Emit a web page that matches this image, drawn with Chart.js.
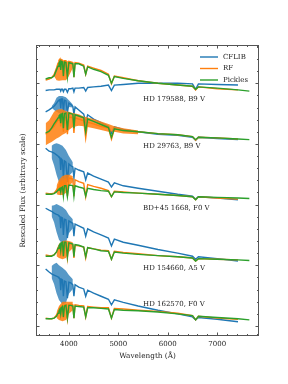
<!DOCTYPE html>
<html>
<head>
<meta charset="utf-8">
<script src="https://cdn.jsdelivr.net/npm/chart.js@4/dist/chart.umd.min.js"></script>
<style>
  html, body { margin: 0; padding: 0; background: #fff; }
</style>
</head>
<body>
<canvas id="chart" width="288" height="384"></canvas>
<script>
// wavelength grid (Angstrom)
const wave = [3530, 3600, 3650, 3700, 3750, 3780, 3800, 3820, 3835, 3850, 3870, 3889, 3910, 3940, 3970,
  4000, 4040, 4080, 4102, 4125, 4200, 4300, 4340, 4380, 4500, 4650, 4800, 4861, 4920, 5100, 5400,
  5800, 6200, 6500, 6563, 6620, 7000, 7420, 7650];
const waveTicks = [4000, 5000, 6000, 7000];

const starNames = ['HD 179588, B9 V', 'HD 29763, B9 V', 'BD+45 1668, F0 V', 'HD 154660, A5 V', 'HD 162570, F0 V'];
const libraries = ['CFLIB', 'RF', 'Pickles'];

// rescaled + offset flux, one row per star
const cflibFlux = [
  [3.88, 3.89, 3.89, 3.89, 3.90, 3.90, 3.90, 3.90, 3.87, 3.90, 3.90, 3.86, 3.90, 3.90, 3.85, 3.91, 3.91, 3.92, 3.86, 3.92, 3.92, 3.93, 3.87, 3.93, 3.94, 3.95, 3.97, 3.88, 3.97, 3.98, 4.00, 4.00, 4.00, 3.99, 3.90, 3.99, 3.98, 3.97, null],
  [3.53, 3.56, 3.59, 3.62, 3.67, 3.71, 3.72, 3.73, 3.59, 3.74, 3.74, 3.53, 3.72, 3.71, 3.51, 3.67, 3.65, 3.62, 3.49, 3.61, 3.56, 3.49, 3.36, 3.48, 3.41, 3.35, 3.29, 3.18, 3.28, 3.24, 3.20, 3.16, 3.14, 3.11, 3.06, 3.11, 3.09, 3.07, null],
  [2.93, 2.88, 2.87, 2.85, 2.82, 2.80, 2.78, 2.77, 2.57, 2.75, 2.73, 2.44, 2.72, 2.70, 2.37, 2.67, 2.64, 2.62, 2.44, 2.60, 2.57, 2.54, 2.41, 2.52, 2.47, 2.42, 2.37, 2.29, 2.36, 2.31, 2.27, 2.22, 2.17, 2.14, 2.09, 2.13, 2.11, 2.08, null],
  [1.94, 1.91, 1.89, 1.86, 1.84, 1.83, 1.81, 1.80, 1.61, 1.79, 1.78, 1.50, 1.76, 1.75, 1.45, 1.73, 1.71, 1.69, 1.48, 1.68, 1.65, 1.61, 1.48, 1.60, 1.55, 1.50, 1.45, 1.32, 1.43, 1.38, 1.33, 1.26, 1.20, 1.15, 1.10, 1.14, 1.11, 1.07, null],
  [0.94, 0.89, 0.86, 0.84, 0.82, 0.81, 0.79, 0.78, 0.59, 0.77, 0.76, 0.49, 0.74, 0.73, 0.46, 0.72, 0.71, 0.68, 0.49, 0.68, 0.64, 0.61, 0.49, 0.59, 0.54, 0.49, 0.44, 0.35, 0.43, 0.39, 0.33, 0.26, 0.20, 0.15, 0.10, 0.14, 0.11, 0.07, null]
];
const rfFlux = [
  [4.05, 4.07, 4.09, 4.14, 4.25, 4.33, 4.38, 4.40, 4.25, 4.39, 4.38, 4.10, 4.37, 4.37, 4.09, 4.36, 4.35, 4.34, 4.10, 4.34, 4.33, 4.30, 4.15, 4.28, 4.25, 4.21, 4.15, 3.99, 4.12, 4.09, 4.04, 4.00, 3.97, 3.95, 3.89, 3.94, 3.91, 3.89, null],
  [3.16, 3.20, 3.25, 3.29, 3.36, 3.39, 3.41, 3.43, 3.29, 3.43, 3.44, 3.20, 3.44, 3.44, 3.16, 3.44, 3.44, 3.43, 3.18, 3.43, 3.41, 3.38, 3.10, 3.36, 3.33, 3.29, 3.26, 3.08, 3.25, 3.22, 3.20, 3.17, 3.15, 3.12, 3.06, 3.11, 3.10, 3.08, null],
  [2.19, 2.18, 2.18, 2.19, 2.24, 2.29, 2.32, 2.36, 2.24, 2.37, 2.39, 2.16, 2.41, 2.42, 2.14, 2.44, 2.43, 2.42, 2.14, 2.41, 2.38, 2.35, 2.13, 2.33, 2.30, 2.27, 2.23, 2.13, 2.22, 2.21, 2.19, 2.17, 2.15, 2.13, 2.08, 2.13, 2.11, 2.09, null],
  [1.17, 1.16, 1.16, 1.17, 1.22, 1.27, 1.30, 1.33, 1.22, 1.34, 1.35, 1.14, 1.36, 1.36, 1.12, 1.36, 1.35, 1.34, 1.12, 1.33, 1.32, 1.30, 1.12, 1.29, 1.27, 1.25, 1.24, 1.10, 1.23, 1.21, 1.19, 1.16, 1.14, 1.12, 1.07, 1.11, 1.10, 1.09, null],
  [0.13, 0.12, 0.12, 0.13, 0.18, 0.23, 0.26, 0.30, 0.20, 0.32, 0.34, 0.13, 0.35, 0.35, 0.12, 0.36, 0.36, 0.35, 0.13, 0.35, 0.34, 0.33, 0.15, 0.32, 0.31, 0.30, 0.30, 0.13, 0.29, 0.28, 0.26, 0.24, 0.21, 0.17, 0.10, 0.16, 0.13, 0.11, null]
];
const picklesFlux = [
  [4.07, 4.09, 4.09, 4.12, 4.22, 4.28, 4.33, 4.36, 4.22, 4.36, 4.35, 4.12, 4.35, 4.34, 4.10, 4.34, 4.33, 4.32, 4.10, 4.32, 4.32, 4.28, 4.15, 4.27, 4.23, 4.19, 4.13, 4.00, 4.11, 4.08, 4.04, 4.00, 3.97, 3.95, 3.90, 3.94, 3.92, 3.89, 3.87],
  [3.18, 3.21, 3.26, 3.33, 3.39, 3.43, 3.46, 3.48, 3.34, 3.49, 3.50, 3.26, 3.50, 3.51, 3.23, 3.51, 3.50, 3.49, 3.26, 3.48, 3.46, 3.43, 3.20, 3.41, 3.37, 3.32, 3.27, 3.11, 3.25, 3.22, 3.20, 3.17, 3.15, 3.12, 3.07, 3.11, 3.10, 3.08, 3.07],
  [2.17, 2.17, 2.17, 2.18, 2.21, 2.24, 2.26, 2.27, 2.21, 2.28, 2.29, 2.14, 2.31, 2.31, 2.13, 2.32, 2.32, 2.31, 2.14, 2.31, 2.29, 2.27, 2.14, 2.27, 2.25, 2.23, 2.22, 2.13, 2.21, 2.20, 2.19, 2.17, 2.15, 2.13, 2.08, 2.13, 2.12, 2.11, 2.10],
  [1.15, 1.15, 1.15, 1.17, 1.22, 1.28, 1.32, 1.35, 1.25, 1.37, 1.38, 1.15, 1.38, 1.38, 1.14, 1.37, 1.36, 1.35, 1.14, 1.34, 1.33, 1.30, 1.14, 1.29, 1.27, 1.24, 1.23, 1.10, 1.22, 1.20, 1.18, 1.16, 1.14, 1.12, 1.07, 1.11, 1.10, 1.09, 1.08],
  [0.12, 0.12, 0.12, 0.13, 0.16, 0.21, 0.25, 0.28, 0.20, 0.30, 0.32, 0.15, 0.33, 0.34, 0.13, 0.34, 0.34, 0.33, 0.13, 0.33, 0.32, 0.31, 0.15, 0.30, 0.30, 0.29, 0.28, 0.13, 0.27, 0.26, 0.25, 0.23, 0.20, 0.17, 0.10, 0.16, 0.14, 0.12, 0.10]
];

// envelope of the noisy blue end (upper / lower edge)
const bandWave = [3530, 3600, 3650, 3700, 3750, 3800, 3870, 3940, 4000, 4080, 4200, 4300, 4500, 4650, 4800, 4920, 5100, 5400];
const cflibNoiseHi = [
  [null, null, null, null, null, null, null, null, null, null, null, null, null, null, null, null, null, null],
  [null, null, 3.62, 3.67, 3.76, 3.79, 3.79, 3.77, 3.72, 3.65, null, null, null, null, null, null, null, null],
  [null, null, 2.97, 3.00, 3.01, 3.00, 2.97, 2.90, 2.80, 2.70, null, null, null, null, null, null, null, null],
  [null, null, 1.98, 1.99, 2.01, 1.99, 1.96, 1.91, 1.83, 1.76, null, null, null, null, null, null, null, null],
  [null, null, 0.99, 1.02, 1.04, 1.00, 0.96, 0.91, 0.84, 0.77, null, null, null, null, null, null, null, null]
];
const cflibNoiseLo = [
  [null, null, null, null, null, null, null, null, null, null, null, null, null, null, null, null, null, null],
  [null, null, 3.60, 3.56, 3.53, 3.51, 3.49, 3.53, 3.61, 3.60, null, null, null, null, null, null, null, null],
  [null, null, 2.77, 2.65, 2.49, 2.37, 2.31, 2.32, 2.47, 2.54, null, null, null, null, null, null, null, null],
  [null, null, 1.81, 1.71, 1.55, 1.42, 1.35, 1.37, 1.53, 1.61, null, null, null, null, null, null, null, null],
  [null, null, 0.79, 0.69, 0.54, 0.43, 0.36, 0.38, 0.53, 0.61, null, null, null, null, null, null, null, null]
];
const rfNoiseHi = [
  [null, null, null, 4.14, 4.25, 4.38, 4.38, 4.37, 4.36, 4.34, null, null, null, null, null, null, null, null],
  [3.34, 3.39, 3.46, 3.53, 3.56, 3.57, 3.57, 3.54, 3.53, 3.51, 3.49, 3.45, 3.41, 3.37, 3.33, 3.29, 3.26, 3.22],
  [null, null, null, null, 2.31, 2.41, 2.47, 2.49, 2.49, 2.47, null, null, null, null, null, null, null, null],
  [null, null, null, null, 1.27, 1.35, 1.40, 1.41, 1.40, 1.38, null, null, null, null, null, null, null, null],
  [null, null, null, null, 0.23, 0.33, 0.40, 0.40, 0.40, 0.40, null, null, null, null, null, null, null, null]
];
const rfNoiseLo = [
  [null, null, null, 4.12, 4.05, 4.04, 4.05, 4.05, 4.12, 4.25, null, null, null, null, null, null, null, null],
  [2.98, 3.01, 3.03, 3.06, 3.09, 3.11, 3.15, 3.18, 3.23, 3.28, 3.30, 3.29, 3.26, 3.23, 3.20, 3.20, 3.17, 3.16],
  [null, null, null, null, 2.17, 2.16, 2.16, 2.19, 2.31, 2.37, null, null, null, null, null, null, null, null],
  [null, null, null, null, 1.15, 1.12, 1.10, 1.12, 1.22, 1.28, null, null, null, null, null, null, null, null],
  [null, null, null, null, 0.13, 0.10, 0.08, 0.10, 0.20, 0.26, null, null, null, null, null, null, null, null]
];

const labelWave = 5500;
const labelFlux = [3.74, 2.965, 1.944, 0.956, 0.362];

const colors = ['#1f77b4', '#ff7f0e', '#2ca02c'];
const bandColors = ['rgba(31,119,180,0.75)', 'rgba(255,127,14,0.85)'];
const FONT = '"DejaVu Serif", serif';

const pts = (xs, ys) => xs.map((w, i) => ({x: w, y: ys[i]})).filter(p => p.y !== null);

const line = (data, color, order) => ({
    data: data, borderColor: color, borderWidth: 1.4, pointRadius: 0,
    fill: false, tension: 0, order: order
});

const datasets = [];
for (let s = 0; s < starNames.length; s++) {
    const cHi = pts(bandWave, cflibNoiseHi[s]);
    if (cHi.length) {
        datasets.push({data: cHi, borderWidth: 0, pointRadius: 0, fill: false, order: 3});
        datasets.push({data: pts(bandWave, cflibNoiseLo[s]), borderWidth: 0, pointRadius: 0,
            fill: '-1', backgroundColor: bandColors[0], order: 3});
    }
    datasets.push(line(pts(wave, cflibFlux[s]), colors[0], 2));
    const rHi = pts(bandWave, rfNoiseHi[s]);
    if (rHi.length) {
        datasets.push({data: rHi, borderWidth: 0, pointRadius: 0, fill: false, order: 1.5});
        datasets.push({data: pts(bandWave, rfNoiseLo[s]), borderWidth: 0, pointRadius: 0,
            fill: '-1', backgroundColor: bandColors[1], order: 1.5});
    }
    datasets.push(line(pts(wave, rfFlux[s]), colors[1], 1));
    datasets.push(line(pts(wave, picklesFlux[s]), colors[2], 0));
}

const decorations = {
    id: 'decorations',
    afterDraw(chart) {
        const {ctx, chartArea: a, scales: {x, y}} = chart;
        ctx.save();
        ctx.strokeStyle = '#555';
        ctx.lineWidth = 1;
        ctx.strokeRect(a.left + 0.5, a.top + 0.5, a.right - a.left - 1, a.bottom - a.top - 1);

        const seg = (x1, y1, x2, y2) => { ctx.beginPath(); ctx.moveTo(x1, y1); ctx.lineTo(x2, y2); ctx.stroke(); };
        // inward ticks, minor every 200 A
        for (let v = Math.ceil(x.min / 200) * 200; v <= x.max; v += 200) {
            const px = Math.round(x.getPixelForValue(v)) + 0.5;
            const len = v % 1000 === 0 ? 3.5 : 2;
            seg(px, a.bottom, px, a.bottom - len);
            seg(px, a.top, px, a.top + len);
        }
        for (let i = Math.ceil(y.min / 0.2); i * 0.2 <= y.max; i++) {
            const py = Math.round(y.getPixelForValue(i * 0.2)) + 0.5;
            const len = i % 5 === 0 ? 3.5 : 2;
            seg(a.left, py, a.left + len, py);
            seg(a.right, py, a.right - len, py);
        }

        ctx.fillStyle = '#222';
        ctx.font = '7px ' + FONT;
        ctx.textBaseline = 'middle';
        ctx.textAlign = 'left';
        starNames.forEach((name, i) => {
            ctx.fillText(name, x.getPixelForValue(labelWave), y.getPixelForValue(labelFlux[i]));
        });

        // legend
        libraries.forEach((lib, i) => {
            const ly = a.top + 12 + i * 11.5;
            ctx.strokeStyle = colors[i];
            ctx.lineWidth = 1.4;
            seg(a.right - 59, ly, a.right - 41, ly);
            ctx.fillStyle = '#222';
            ctx.fillText(lib, a.right - 36, ly);
        });

        // axis titles
        ctx.font = '7.3px ' + FONT;
        ctx.textAlign = 'center';
        ctx.fillText('Wavelength (Å)', (a.left + a.right) / 2, a.bottom + 20);
        ctx.translate(23.5, (a.top + a.bottom) / 2);
        ctx.rotate(-Math.PI / 2);
        ctx.fillText('Rescaled Flux (arbitrary scale)', 0, 0);
        ctx.restore();
    }
};

new Chart(document.getElementById('chart'), {
    type: 'line',
    data: {datasets: datasets},
    options: {
        responsive: false,
        animation: false,
        events: [],
        layout: {padding: {top: 45, right: 29, left: 0, bottom: 0}},
        scales: {
            x: {
                type: 'linear',
                min: 3335,
                max: 7845,
                grid: {display: false, drawTicks: false},
                border: {display: false},
                ticks: {
                    maxRotation: 0,
                    autoSkip: false,
                    padding: 4,
                    color: '#222',
                    font: {family: FONT, size: 7},
                    callback: v => String(v)
                },
                afterBuildTicks: s => { s.ticks = waveTicks.map(v => ({value: v})); },
                afterFit: s => { s.height = 48; }
            },
            y: {
                type: 'linear',
                min: -0.165,
                max: 4.63,
                grid: {display: false, drawTicks: false},
                border: {display: false},
                ticks: {display: false},
                afterFit: s => { s.width = 36; }
            }
        },
        plugins: {
            legend: {display: false},
            tooltip: {enabled: false}
        }
    },
    plugins: [decorations]
});
</script>
</body>
</html>
